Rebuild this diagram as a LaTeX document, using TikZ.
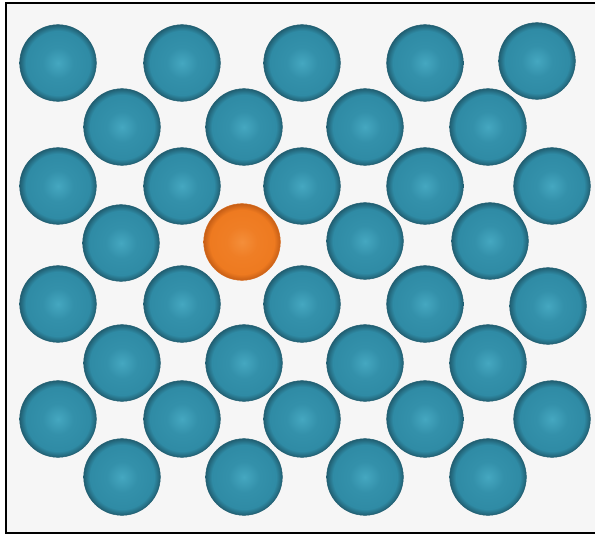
\documentclass[tikz,border=0pt]{standalone}
\usepackage{tikz}

\definecolor{tealhi}{HTML}{45A7C0}
\definecolor{tealmid}{HTML}{2F8BA5}
\definecolor{tealdk}{HTML}{215F72}
\definecolor{orghi}{HTML}{F48E3A}
\definecolor{orgmid}{HTML}{EE7A20}
\definecolor{orgdk}{HTML}{C65E16}
\definecolor{paper}{HTML}{F6F6F6}

\pgfdeclareradialshading{tealball}{\pgfpoint{0bp}{0bp}}{%
  color(0bp)=(tealhi); color(10bp)=(tealmid!80!tealhi); color(21bp)=(tealmid);
  color(25bp)=(tealdk); color(50bp)=(tealdk)}
\pgfdeclareradialshading{orangeball}{\pgfpoint{0bp}{0bp}}{%
  color(0bp)=(orghi); color(10bp)=(orgmid!80!orghi); color(21bp)=(orgmid);
  color(25bp)=(orgdk); color(50bp)=(orgdk)}

\tikzset{
  ball/.style={circle, minimum size=2.3cm, inner sep=0pt,
    shading=tealball, draw=tealdk, line width=0.4pt},
  hotball/.style={ball, shading=orangeball, draw=orgdk!60!orgmid}
}

\begin{document}
\begin{tikzpicture}[x=0.03cm, y=-0.03cm]
    \useasboundingbox (0,0) rectangle (595,536);
    % Background and frame
    \fill[paper] (6,3) rectangle (595,533);
    \draw[line width=0.06cm] (595,3) -- (6,3) -- (6,533) -- (595,533);

    % Odd rows
    \foreach \y/\r in {63/1, 186/3, 304/5, 419/7} {
        \foreach \x/\c in {58/1, 182/2, 302/3, 425/4} {
            \node[ball] (b-\r-\c) at (\x,\y) {};
        }
    }
    \node[ball] (b-1-5) at (537,61) {};
    \node[ball] (b-3-5) at (552,186) {};
    \node[ball] (b-5-5) at (548,306) {};
    \node[ball] (b-7-5) at (552,419) {};

    % Even rows
    \foreach \y/\r in {127/2, 363/6, 477/8} {
        \foreach \x/\c in {122/1, 244/2, 365/3, 488/4} {
            \node[ball] (b-\r-\c) at (\x,\y) {};
        }
    }
    \node[ball] (b-4-1) at (121,243) {};
    \node[hotball] (b-4-2) at (242,242) {};
    \node[ball] (b-4-3) at (365,241) {};
    \node[ball] (b-4-4) at (490,241) {};
\end{tikzpicture}
\end{document}
